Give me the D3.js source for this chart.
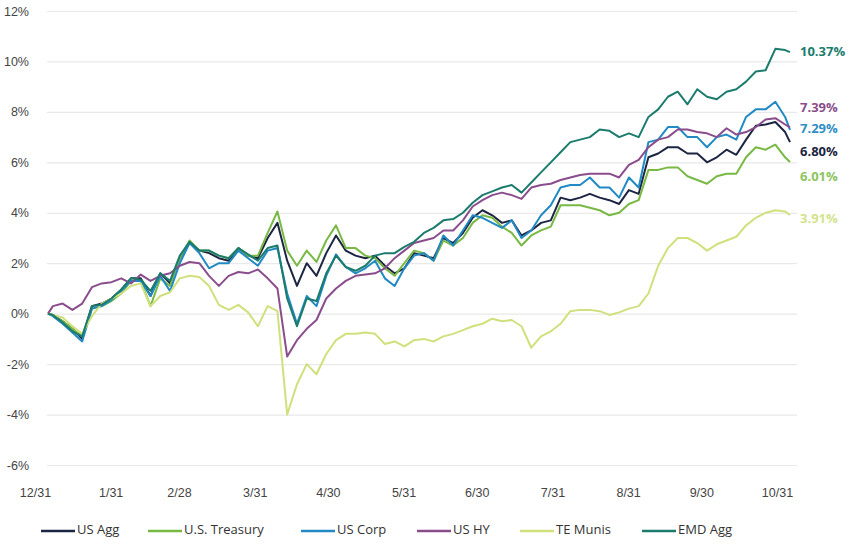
<!DOCTYPE html>
<html>
<head>
<meta charset="utf-8">
<script src="https://cdn.jsdelivr.net/npm/d3@7"></script>
<style>
  body { margin: 0; background: #fff; }
  svg { font-family: "Open Sans", sans-serif; }
</style>
</head>
<body>
<div id="chart"></div>
<script>
// Cumulative total return, 12/31 through 10/31 (values in %)
const parse = d3.timeParse("%Y-%m-%d");
const startDate = parse("2024-12-31");
const endDate = parse("2025-10-31");

// observation dates: year end, then every 4th day from Jan 2, then 10/31
const dates = [startDate].concat(d3.timeDay.range(parse("2025-01-02"), endDate, 4), [endDate]);

const monthEnds = ["2024-12-31", "2025-01-31", "2025-02-28", "2025-03-31", "2025-04-30", "2025-05-31",
  "2025-06-30", "2025-07-31", "2025-08-31", "2025-09-30", "2025-10-31"];

const yTicks = [-6, -4, -2, 0, 2, 4, 6, 8, 10, 12];

const seriesNames = ["US Agg", "U.S. Treasury", "US Corp", "US HY", "TE Munis", "EMD Agg"];

const usAgg = [0, -0.05, -0.3, -0.6, -1.0, 0.3, 0.4, 0.6, 0.95, 1.4,
  1.4, 0.7, 1.6, 1.2, 2.2, 2.8, 2.5, 2.4, 2.2, 2.1,
  2.6, 2.3, 2.2, 3.0, 3.6, 2.1, 1.1, 2.0, 1.5, 2.4,
  3.1, 2.5, 2.3, 2.2, 2.3, 1.9, 1.6, 1.8, 2.4, 2.3,
  2.2, 3.0, 2.8, 3.2, 3.8, 4.1, 3.9, 3.6, 3.7, 3.1,
  3.3, 3.6, 3.7, 4.6, 4.5, 4.6, 4.75, 4.6, 4.5, 4.35,
  4.9, 4.75, 6.2, 6.35, 6.6, 6.6, 6.35, 6.35, 6.0, 6.2,
  6.5, 6.3, 6.9, 7.45, 7.5, 7.6, 7.2, 6.80];

const usTreasury = [0, -0.05, -0.3, -0.6, -0.9, 0.2, 0.3, 0.5, 0.8, 1.3,
  1.3, 0.3, 1.4, 1.1, 2.2, 2.9, 2.5, 2.5, 2.3, 2.2,
  2.6, 2.3, 2.3, 3.2, 4.05, 2.5, 1.9, 2.5, 2.05, 2.9,
  3.5, 2.6, 2.6, 2.3, 2.2, 1.8, 1.5, 2.0, 2.5, 2.4,
  2.1, 2.9, 2.7, 3.0, 3.6, 3.9, 3.8, 3.45, 3.2, 2.7,
  3.1, 3.3, 3.45, 4.3, 4.3, 4.3, 4.2, 4.1, 3.9, 4.0,
  4.35, 4.5, 5.7, 5.7, 5.8, 5.8, 5.45, 5.3, 5.15, 5.45,
  5.55, 5.55, 6.2, 6.6, 6.5, 6.7, 6.2, 6.01];

const usCorp = [0, -0.1, -0.4, -0.75, -1.1, 0.2, 0.3, 0.55, 0.9, 1.3,
  1.3, 0.7, 1.5, 0.9, 2.0, 2.8, 2.4, 1.8, 2.0, 2.0,
  2.5, 2.2, 1.9, 2.5, 2.6, 0.8, -0.4, 0.7, 0.3, 1.5,
  2.35, 1.85, 1.6, 1.8, 2.1, 1.4, 1.1, 1.8, 2.3, 2.4,
  2.1, 3.1, 2.7, 3.3, 3.9, 3.8, 3.6, 3.4, 3.7, 3.0,
  3.3, 3.9, 4.3, 5.0, 5.1, 5.1, 5.4, 5.0, 5.0, 4.6,
  5.4, 5.0, 6.8, 6.9, 7.4, 7.4, 7.0, 7.0, 6.6, 7.0,
  7.1, 6.9, 7.8, 8.1, 8.1, 8.4, 7.8, 7.29];

const usHY = [0, 0.3, 0.4, 0.15, 0.4, 1.05, 1.2, 1.25, 1.4, 1.2,
  1.55, 1.3, 1.5, 1.6, 1.9, 2.05, 2.0, 1.5, 1.1, 1.5,
  1.65, 1.6, 1.75, 1.4, 1.0, -1.7, -1.05, -0.6, -0.25, 0.6,
  1.0, 1.3, 1.5, 1.55, 1.6, 1.8, 2.2, 2.5, 2.8, 2.9,
  3.0, 3.3, 3.3, 3.7, 4.25, 4.5, 4.7, 4.8, 4.7, 4.55,
  5.0, 5.1, 5.15, 5.3, 5.4, 5.5, 5.55, 5.55, 5.55, 5.4,
  5.9, 6.1, 6.6, 6.9, 7.0, 7.3, 7.3, 7.2, 7.15, 7.0,
  7.35, 7.1, 7.2, 7.4, 7.7, 7.75, 7.5, 7.39];

const teMunis = [0, -0.05, -0.15, -0.5, -0.8, -0.1, 0.4, 0.6, 0.8, 1.1,
  1.2, 0.3, 0.7, 0.85, 1.4, 1.5, 1.45, 1.1, 0.35, 0.15,
  0.35, 0.05, -0.5, 0.3, 0.1, -4.0, -2.8, -2.0, -2.4, -1.6,
  -1.05, -0.8, -0.8, -0.75, -0.8, -1.2, -1.1, -1.3, -1.05, -1.0,
  -1.1, -0.9, -0.8, -0.65, -0.5, -0.4, -0.2, -0.3, -0.25, -0.5,
  -1.35, -0.9, -0.7, -0.4, 0.1, 0.15, 0.15, 0.1, -0.05, 0.05,
  0.2, 0.3, 0.8, 1.9, 2.6, 3.0, 3.0, 2.8, 2.5, 2.75,
  2.9, 3.05, 3.5, 3.8, 4.0, 4.1, 4.05, 3.91];

const emdAgg = [0, -0.05, -0.35, -0.7, -0.9, 0.3, 0.35, 0.6, 0.95, 1.4,
  1.35, 0.9, 1.6, 1.3, 2.3, 2.85, 2.5, 2.5, 2.3, 2.2,
  2.6, 2.35, 2.1, 2.6, 2.7, 0.6, -0.5, 0.6, 0.5, 1.6,
  2.3, 1.85, 1.7, 1.9, 2.3, 2.4, 2.4, 2.65, 2.85, 3.2,
  3.4, 3.7, 3.75, 4.0, 4.4, 4.7, 4.85, 5.0, 5.1, 4.8,
  5.2, 5.6, 6.0, 6.4, 6.8, 6.9, 7.0, 7.3, 7.25, 7.0,
  7.15, 7.0, 7.8, 8.1, 8.6, 8.8, 8.3, 8.9, 8.6, 8.5,
  8.8, 8.9, 9.2, 9.6, 9.65, 10.5, 10.45, 10.37];

const seriesValues = [usAgg, usTreasury, usCorp, usHY, teMunis, emdAgg];
const colors = ["#1c2541", "#78b943", "#2189c4", "#8a4d8c", "#cfe07c", "#1b7c6e"];
const labelColors = ["#1c2541", "#8cc45e", "#2f8fc4", "#8a4d8c", "#d3e38c", "#1b7c6e"];
// vertical nudge of the end labels so they don't collide
const labelNudge = [10, 15, 0, -19, 4, 0];

const width = 850, height = 547;
const margin = { left: 48, right: 60, top: 11, bottom: 82 };

const svg = d3.select("#chart")
  .append("svg")
  .attr("width", width)
  .attr("height", height);

const x = d3.scaleTime()
  .domain([startDate, endDate])
  .range([margin.left, width - margin.right]);

const y = d3.scaleLinear()
  .domain([-6, 12])
  .range([height - margin.bottom, margin.top]);

// y axis with gridlines
const gridLeft = 47, gridRight = 797;
svg.append("g")
  .attr("transform", `translate(${gridLeft},0)`)
  .call(d3.axisLeft(y)
    .tickValues(yTicks)
    .tickSize(-(gridRight - gridLeft))
    .tickPadding(18)
    .tickFormat(d => d + "%"))
  .call(g => g.select(".domain").remove())
  .call(g => g.selectAll(".tick line").attr("stroke", "#e9e9e9").attr("stroke-width", 1.2))
  .call(g => g.selectAll(".tick text")
    .attr("fill", "#444")
    .style("font-size", "12.5px"));

// x axis (labels only)
svg.append("g")
  .attr("transform", `translate(0,${y(-6)})`)
  .call(d3.axisBottom(x)
    .tickValues(monthEnds.map(parse))
    .tickSize(0)
    .tickPadding(23)
    .tickFormat(d3.timeFormat("%-m/%-d")))
  .call(g => g.select(".domain").remove())
  .call(g => g.selectAll(".tick text")
    .attr("x", -13)
    .attr("fill", "#444")
    .style("font-size", "12.5px"));

// lines
const series = seriesNames.map((name, i) => ({
  name: name,
  color: colors[i],
  values: seriesValues[i].map((v, j) => ({ date: dates[j], v: v }))
}));

const line = d3.line()
  .x(d => x(d.date))
  .y(d => y(d.v));

svg.append("g")
  .selectAll("path")
  .data(series)
  .join("path")
  .attr("fill", "none")
  .attr("stroke", d => d.color)
  .attr("stroke-width", 2)
  .attr("stroke-linejoin", "round")
  .attr("d", d => line(d.values));

// end labels
svg.append("g")
  .selectAll("text")
  .data(series)
  .join("text")
  .attr("x", x(endDate) + 10)
  .attr("y", (d, i) => y(d.values[d.values.length - 1].v) + labelNudge[i])
  .attr("dominant-baseline", "middle")
  .attr("fill", (d, i) => labelColors[i])
  .style("font-size", "13px")
  .style("font-weight", "bold")
  .text(d => d.values[d.values.length - 1].v.toFixed(2) + "%");

// legend
const legendX = [41, 148, 301, 417, 520, 642];
const legend = svg.append("g")
  .attr("transform", "translate(0,531)");

const item = legend.selectAll("g")
  .data(series)
  .join("g")
  .attr("transform", (d, i) => `translate(${legendX[i]},0)`);

item.append("line")
  .attr("x1", 0)
  .attr("x2", 34)
  .attr("stroke", d => d.color)
  .attr("stroke-width", 2.5);

item.append("text")
  .attr("x", 36)
  .attr("dominant-baseline", "middle")
  .attr("fill", "#333")
  .style("font-size", "13px")
  .text(d => d.name);
</script>
</body>
</html>
